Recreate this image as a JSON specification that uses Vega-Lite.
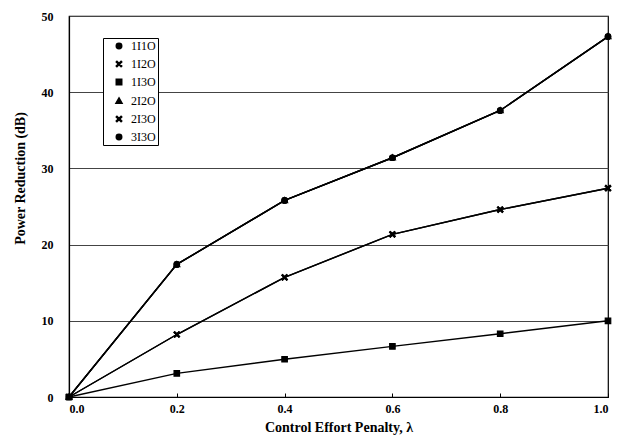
{
  "$schema": "https://vega.github.io/schema/vega-lite/v6.json",
  "autosize": "none",
  "width": 539,
  "height": 381,
  "padding": {"left": 69, "top": 16, "right": 20, "bottom": 50},
  "background": "white",
  "config": {
    "view": {"stroke": "black", "strokeWidth": 1.2},
    "font": "Liberation Serif"
  },
  "data": {
    "values": [
      {"series": "1I1O", "lambda": 0.0, "power": 0},
      {"series": "1I1O", "lambda": 0.2, "power": 17.4},
      {"series": "1I1O", "lambda": 0.4, "power": 25.8},
      {"series": "1I1O", "lambda": 0.6, "power": 31.4},
      {"series": "1I1O", "lambda": 0.8, "power": 37.6},
      {"series": "1I1O", "lambda": 1.0, "power": 47.3},
      {"series": "2I2O", "lambda": 0.0, "power": 0},
      {"series": "2I2O", "lambda": 0.2, "power": 17.4},
      {"series": "2I2O", "lambda": 0.4, "power": 25.8},
      {"series": "2I2O", "lambda": 0.6, "power": 31.4},
      {"series": "2I2O", "lambda": 0.8, "power": 37.6},
      {"series": "2I2O", "lambda": 1.0, "power": 47.3},
      {"series": "1I2O", "lambda": 0.0, "power": 0},
      {"series": "1I2O", "lambda": 0.2, "power": 8.2},
      {"series": "1I2O", "lambda": 0.4, "power": 15.7},
      {"series": "1I2O", "lambda": 0.6, "power": 21.35},
      {"series": "1I2O", "lambda": 0.8, "power": 24.6},
      {"series": "1I2O", "lambda": 1.0, "power": 27.4},
      {"series": "1I3O", "lambda": 0.0, "power": 0},
      {"series": "1I3O", "lambda": 0.2, "power": 3.1},
      {"series": "1I3O", "lambda": 0.4, "power": 4.95},
      {"series": "1I3O", "lambda": 0.6, "power": 6.65},
      {"series": "1I3O", "lambda": 0.8, "power": 8.3},
      {"series": "1I3O", "lambda": 1.0, "power": 10.0},
      {"series": "2I3O", "lambda": 0.0, "power": 0},
      {"series": "2I3O", "lambda": 0.2, "power": 8.2},
      {"series": "2I3O", "lambda": 0.4, "power": 15.7},
      {"series": "2I3O", "lambda": 0.6, "power": 21.35},
      {"series": "2I3O", "lambda": 0.8, "power": 24.6},
      {"series": "2I3O", "lambda": 1.0, "power": 27.4},
      {"series": "3I3O", "lambda": 0.0, "power": 0},
      {"series": "3I3O", "lambda": 0.2, "power": 17.4},
      {"series": "3I3O", "lambda": 0.4, "power": 25.8},
      {"series": "3I3O", "lambda": 0.6, "power": 31.4},
      {"series": "3I3O", "lambda": 0.8, "power": 37.6},
      {"series": "3I3O", "lambda": 1.0, "power": 47.3}
    ]
  },
  "layer": [
    {
      "mark": {"type": "line", "color": "black", "strokeWidth": 1.4},
      "encoding": {
        "x": {
          "field": "lambda",
          "type": "quantitative",
          "scale": {"domain": [0, 1], "nice": false},
          "axis": {
            "values": [0, 0.2, 0.4, 0.6, 0.8, 1],
            "format": ".1f",
            "grid": false,
            "domainColor": "black",
            "domainWidth": 1.2,
            "tickColor": "black",
            "tickSize": -4,
            "labelFont": "Liberation Serif",
            "labelFontSize": 12,
            "labelFontWeight": "bold",
            "labelColor": "black",
            "labelPadding": 10,
            "title": "Control Effort Penalty,  λ",
            "titleFont": "Liberation Serif",
            "titleFontSize": 14,
            "titleFontWeight": "bold",
            "titleColor": "black",
            "titlePadding": 6
          }
        },
        "y": {
          "field": "power",
          "type": "quantitative",
          "scale": {"domain": [0, 50], "nice": false},
          "axis": {
            "values": [0, 10, 20, 30, 40, 50],
            "grid": true,
            "gridColor": "#444",
            "gridWidth": 1,
            "domainColor": "black",
            "domainWidth": 1.2,
            "ticks": false,
            "labelFont": "Liberation Serif",
            "labelFontSize": 12,
            "labelFontWeight": "bold",
            "labelColor": "black",
            "labelPadding": 16,
            "title": "Power Reduction (dB)",
            "titleFont": "Liberation Serif",
            "titleFontSize": 14,
            "titleFontWeight": "bold",
            "titleColor": "black",
            "titleX": -49,
            "titleY": 162,
            "titleAlign": "center",
            "titleBaseline": "middle",
            "titleAngle": -90
          }
        },
        "detail": {"field": "series", "type": "nominal"}
      }
    },
    {
      "mark": {"type": "point", "filled": true, "color": "black", "stroke": "black", "strokeWidth": 1.2, "size": 30, "opacity": 1},
      "encoding": {
        "x": {"field": "lambda", "type": "quantitative"},
        "y": {"field": "power", "type": "quantitative"},
        "shape": {
          "field": "series",
          "type": "nominal",
          "scale": {
            "domain": ["1I1O", "1I2O", "1I3O", "2I2O", "2I3O", "3I3O"],
            "range": [
              "M -1 0 A 1 1 0 1 0 1 0 A 1 1 0 1 0 -1 0 Z",
              "M -1 -0.75 L -0.75 -1 L 1 0.75 L 0.75 1 Z M 0.75 -1 L 1 -0.75 L -0.75 1 L -1 0.75 Z",
              "M -1 -1 H 1 V 1 H -1 Z",
              "M 0 -1.1 L 1.1 0.8 H -1.1 Z",
              "M -1 -0.75 L -0.75 -1 L 1 0.75 L 0.75 1 Z M 0.75 -1 L 1 -0.75 L -0.75 1 L -1 0.75 Z M -0.5 -0.5 H 0.5 V 0.5 H -0.5 Z",
              "M -1 0 A 1 1 0 1 0 1 0 A 1 1 0 1 0 -1 0 Z"
            ]
          },
          "legend": {
            "orient": "none",
            "legendX": 34,
            "legendY": 22,
            "title": null,
            "strokeColor": "black",
            "fillColor": "white",
            "padding": 2,
            "labelFont": "Liberation Serif",
            "labelFontSize": 12,
            "labelColor": "black",
            "symbolSize": 30,
            "symbolOffset": 8,
            "labelOffset": 6,
            "rowPadding": 6
          }
        }
      }
    }
  ]
}
